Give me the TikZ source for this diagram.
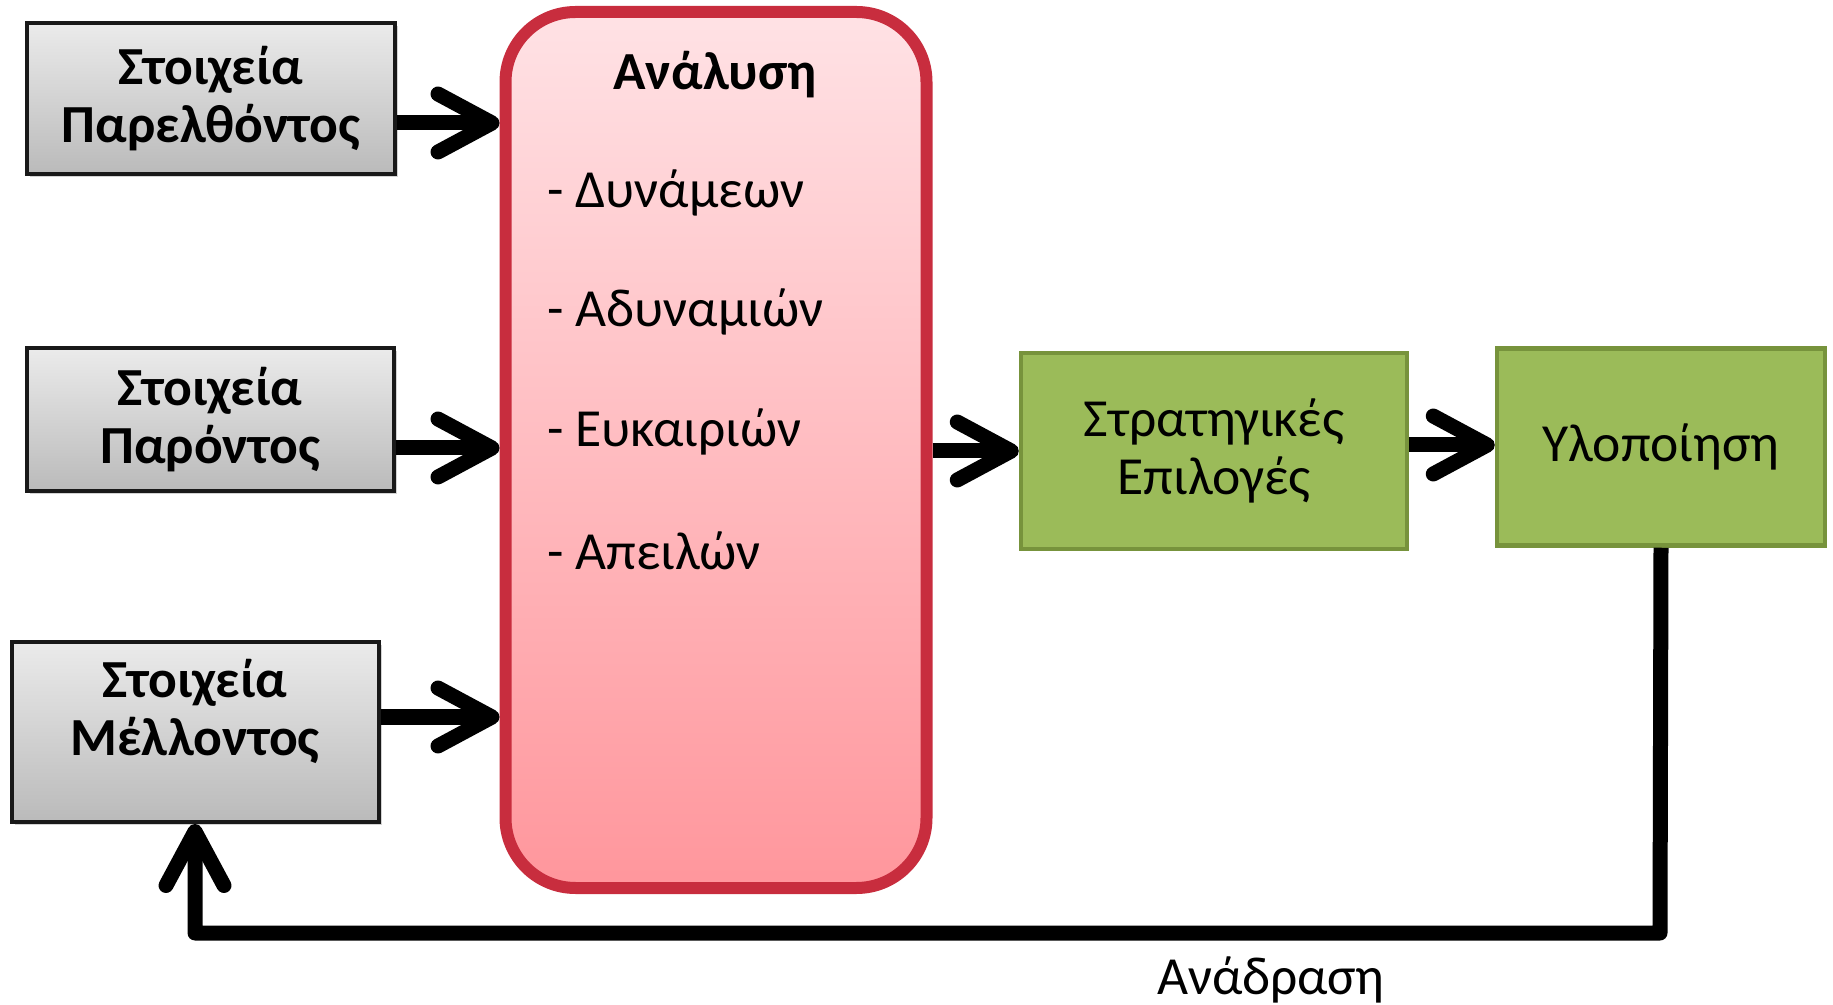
\documentclass[tikz,border=0pt]{standalone}
\usepackage{fontspec}
\setmainfont{Carlito}
\usetikzlibrary{arrows.meta}
\usetikzlibrary{shadows}

\definecolor{boxred}{RGB}{200,45,62}
\definecolor{pinktop}{RGB}{255,226,229}
\definecolor{pinkbot}{RGB}{255,150,156}
\definecolor{boxgreen}{RGB}{155,187,89}
\definecolor{greenline}{RGB}{119,147,60}

\begin{document}
\begin{tikzpicture}[x=0.5pt,y=-0.5pt,
		every node/.style={font=\fontsize{26.8}{29}\selectfont},
		greybox/.style={rectangle,draw=black!90,line width=2pt,top color=black!8,bottom color=black!27,
			drop shadow={shadow xshift=1.5pt,shadow yshift=-1.5pt,opacity=.35}},
		boxtext/.style={align=center,font=\fontsize{26.8}{29}\selectfont\bfseries},
		greenbox/.style={rectangle,draw=greenline,line width=2.25pt,fill=boxgreen,align=center},
		bigarrow/.style={line width=7.5pt,line join=round,-{Straight Barb[length=27pt,width=29pt,round]}}]
	\useasboundingbox (0,0) rectangle (1833,1005);
	\node [greybox,boxtext,minimum width=184pt,minimum height=75.5pt] (past) at (211,99) {Στοιχεία\\Παρελθόντος};
	\node [greybox,boxtext,minimum width=183.5pt,minimum height=71.5pt] (present) at (210,420) {Στοιχεία\\Παρόντος};
	\node [greybox,minimum width=183.5pt,minimum height=90pt] (future) at (195,732) {};
	\node [boxtext] (futuretext) at (195,711) {Στοιχεία\\Μέλλοντος};
	\node [rectangle,rounded corners=35pt,draw=boxred,line width=6pt,top color=pinktop,bottom color=pinkbot,
		minimum width=210.5pt,minimum height=438pt,
		drop shadow={shadow xshift=1.5pt,shadow yshift=-1.5pt,opacity=.3}] (analysis) at (716,450) {};
	\node [font=\fontsize{26.8}{29}\selectfont\bfseries] (title) at (715,75) {Ανάλυση};
	\node [anchor=west] (strengths) at (540,193) {- Δυνάμεων};
	\node [anchor=west] (weaknesses) at (540,312) {- Αδυναμιών};
	\node [anchor=west] (opportunities) at (540,432) {- Ευκαιριών};
	\node [anchor=west] (threats) at (540,551) {- Απειλών};
	\node [greenbox,minimum width=193pt,minimum height=98pt] (choices) at (1214,451) {Στρατηγικές\\Επιλογές};
	\node [greenbox,minimum width=164pt,minimum height=98.5pt] (impl) at (1661,447) {Υλοποίηση};
	\node (feedback) at (1271,980) {Ανάδραση};
	\coordinate (fbcorner) at (1660,933);
	\foreach \from/\y in {past/123, present/448, future/717}
		\draw [bigarrow] (\from.east |- 0,\y) -- (analysis.west |- 0,\y);
	\draw [bigarrow] (analysis.east |- choices) -- (choices.west);
	\draw [bigarrow] (choices.east |- 0,445) -- (impl.west |- 0,445);
	\draw [bigarrow] (impl.south) -- (fbcorner) -| (future.south);
\end{tikzpicture}
\end{document}
